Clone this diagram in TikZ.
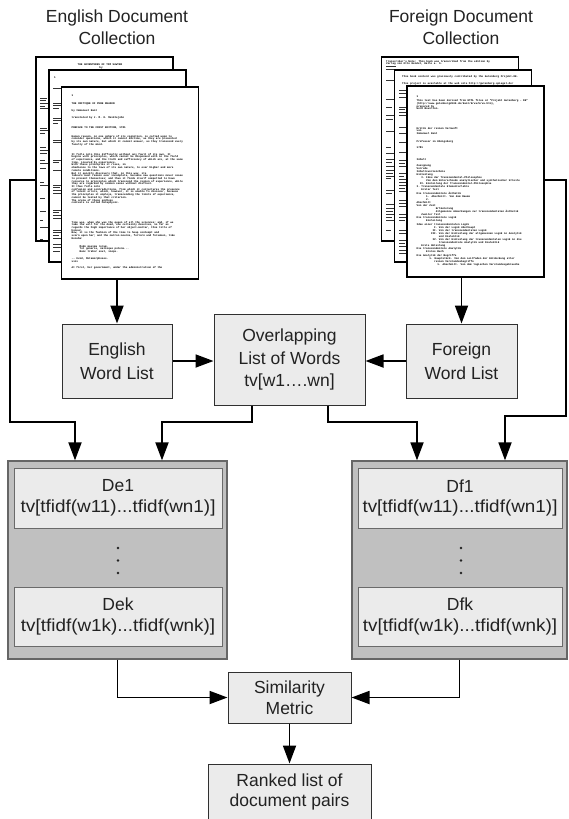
\documentclass[tikz,border=0pt]{standalone}
\usepackage{fontspec}
\setmainfont{Liberation Sans}
\newfontfamily\docfont{Liberation Mono}
\usepackage{graphicx}
\usetikzlibrary{arrows.meta}
\definecolor{boxfill}{HTML}{EBEBEB}
\definecolor{boxline}{HTML}{303030}
\definecolor{grpfill}{HTML}{C0C0C0}
\definecolor{grpline}{HTML}{666666}
\definecolor{inline}{HTML}{6A6A6A}
\definecolor{ink}{HTML}{222222}
\newdimen\docch \docch=1.59pt
\newcommand\ind[1]{\hspace*{#1\docch}}
\newcommand\tvline[1]{\scalebox{1.08}[1]{#1}}
\tikzset{
  docpage/.style={draw=black, line width=1.9pt, fill=white, inner sep=0, minimum width=137pt},
  doctxt/.style={font=\docfont\bfseries\fontsize{2.65}{#1}\selectfont, align=left, inner sep=0, anchor=north west, text=black},
  doctxt/.default=2.7,
  doctitle/.style={font=\fontsize{17.5}{21.5}\selectfont, align=center, inner sep=0, text=ink},
  procbox/.style={draw=boxline, line width=1pt, fill=boxfill, align=center, inner sep=0, text=ink},
  grpbox/.style={draw=grpline, line width=1.3pt, fill=grpfill, inner sep=0},
  docvec/.style={draw=inline, line width=1pt, fill=boxfill, align=center, inner sep=0, font=\fontsize{17.5}{20.5}\selectfont, text=ink, minimum height=60pt},
  conn/.style={line width=1.8pt, draw=black, -{Triangle[length=18pt,width=13pt]}},
  bar/.style={fill=black!80},
}
\begin{document}
\begin{tikzpicture}[x=1pt,y=-1pt]
\useasboundingbox (0,0) rectangle (568,819);

% ---------------- titles
\node[doctitle] (etitle) at (117,27) {English Document\\Collection};
\node[doctitle] (ftitle) at (461,27) {Foreign Document\\Collection};

% ---------------- English stack
\node[docpage, minimum height=184pt] (eback) at (104.5,149) {};
\node[doctxt, anchor=center] (ebt) at (100,65) {THE ADVENTURES OF TOM SAWYER};
\node[doctxt, anchor=center] (eby) at (101,68.3) {by};
\foreach \yy/\ww in {98/7,100.7/6,103.4/8,106/5,108.7/8,128/7,130.7/8,133.4/5,147/6,150/8,153/7,160/5,163/8,168/6,182/4,185/8,198/5,211/6,220/3,227/8,239/3}
  \fill[bar] (40,\yy-0.5) rectangle ++(\ww,1);

\node[docpage, minimum height=192pt] (emid) at (117.5,166) {};
\node[doctxt, anchor=center] (emn) at (55,78) {1};
\foreach \yy/\ww in {88/12,103/9,105.7/12,108.4/6,118/12,120.7/10,123.4/5,140/12,142.7/8,160/12,162.7/6,170/11,185/12,187.7/7,190.4/12,193/9,210/12,212.7/6,215.4/12,218/10,230/8,232.7/12,235.4/6,238/12,244/9,247/12,251/7}
  \fill[bar] (53,\yy-0.5) rectangle ++(\ww,1);

\node[docpage, minimum height=192pt] (efront) at (130,183) {};
\node[doctxt] (ef1) at (71.5,95) {1};
\node[doctxt=7] (ef2) at (71.5,103) {THE CRITIQUE OF PURE REASON\\by Immanuel Kant\\translated by J. M. D. Meiklejohn};
\node[doctxt] (ef3) at (71.5,127) {PREFACE TO THE FIRST EDITION, 1781};
\node[doctxt] (ef4) at (71.5,135) {Human reason, in one sphere of its cognition, is called upon to\\
consider questions, which it cannot decline, as they are presented\\
by its own nature, but which it cannot answer, as they transcend every\\
faculty of the mind.};
\node[doctxt] (ef5) at (71.5,153) {It falls into this difficulty without any fault of its own. It\\
begins with principles, which cannot be dispensed with in the field\\
of experience, and the truth and sufficiency of which are, at the same\\
time, insured by experience.\\
With these principles it rises, in\\
obedience to the laws of its own nature, to ever higher and more\\
remote conditions.\\
But it quickly discovers that, in this way, its\\
labours must remain ever incomplete, because new questions never cease\\
to present themselves; and thus it finds itself compelled to have\\
recourse to principles which transcend the region of experience, while\\
they are regarded by common sense without distrust.\\
It thus falls into\\
confusion and contradictions, from which it conjectures the presence\\
of latent errors, which, however, it is unable to discover, because\\
the principles it employs, transcending the limits of experience,\\
cannot be tested by that criterion.\\
The arena of these endless\\
contests is called Metaphysic.};
\node[doctxt] (ef6) at (71.5,221) {Time was, when she was the queen of all the sciences; and, if we\\
take the will for the deed, she certainly deserves, so far as\\
regards the high importance of her object-matter, this title of\\
honour.\\
Now, it is the fashion of the time to heap contempt and\\
scorn upon her; and the matron mourns, forlorn and forsaken, like\\
Hecuba:};
\node[doctxt] (ef7) at (79.5,245) {Modo maxima rerum,\\
Tot generis, natisque potens...\\
Nunc trahor exul, inops.};
\node[doctxt=3.3] (ef8) at (71.5,257) {-- Ovid, Metamorphoses.\\xiii};
\node[doctxt] (ef9) at (71.5,266) {At first, her government, under the administration of the};

% ---------------- Foreign stack
\node[docpage, minimum height=184pt] (fback) at (450,149) {};
\node[doctxt] (fb1) at (386,60) {Transcriber's Note: This book was transcribed from the edition by\\
Verlag von Otto Hendel, Halle a. S.};
\foreach \yy/\ww in {66.3/10,69/9,80/8,99/9,107/6,115/9,119/7,131/9,147/5,153/9,159/8,162/6,166/9,170/9,173/7,176/9,178.5/5,190/9,193/6,204/8,208/9,211/7,214/9,217/6,220/9,230/5}
  \fill[bar] (386,\yy-0.5) rectangle ++(\ww,1);

\node[docpage, minimum height=192pt] (fmid) at (463,166) {};
\node[doctxt] (fm1) at (402,75.7) {This book content was graciously contributed by the Gutenberg Projekt-DE.};
\node[doctxt] (fm2) at (402,82.3) {This project is available at the web site http://gutenberg.spiegel.de/};
\foreach \yy/\ww in {90/9,93/8,97/9,107/9,109.7/6,112.4/9,115/7,127/9,133/7,142/9,152/8,160/9,163/6,166/9,173/9,176/5,179/9,182/8,185/9,188/6,191/9,200/9,203/7,206/9,214/8,217/9,220/6,230/9,233/8,240/9,243/6,246/9,250/8,253/9}
  \fill[bar] (399,\yy-0.5) rectangle ++(\ww,1);

\node[docpage, minimum height=191pt] (ffront) at (475.5,181.5) {};
\node[doctxt] (ff1) at (416.5,95.7) {1};
\node[doctxt=2.6] (ff2) at (416.5,99.7) {This text has been derived from HTML files at "Projekt Gutenberg - DE"\\
(http://www.gutenberg2000.de/kant/krva/krva.htm),\\
prepared by\\
Gerd Bouillon.};
\node[doctxt] (ff3) at (416.5,127) {Kritik der reinen Vernunft\\von\\Immanuel Kant};
\node[doctxt] (ff4) at (416.5,140.7) {Professor in Königsberg};
\node[doctxt] (ff5) at (416.5,146.3) {1781};
\node[doctxt] (ff6) at (416.5,158.3) {Inhalt};
\node[doctxt=3.1] (ff7) at (416.5,164) {Zueignung\\
Vorrede\\
Inhaltsverzeichnis\\
Einleitung\\
\ind{3}I. Idee der Transzendental-Philosophie\\
\ind{6}Von dem Unterschiede analytischer und synthetischer Urteile\\
\ind{2}II. Einteilung der Transzendental-Philosophie\\
I. Transzendentale Elementarlehre\\
\ind{3}Erster Teil\\
Die transzendentale Ästhetik\\
\ind{6}1. Abschnitt. Von dem Raume\\
\ind{6}2.\\
Abschnitt\\
Von der Zeit\\
\ind{12}Erläuterung\\
\ind{12}Allgemeine Anmerkungen zur transzendentalen Ästhetik\\
\ind{3}Zweiter Teil\\
Die transzendentale Logik\\
\ind{6}Einleitung\\
Idee einer transzendentalen Logik\\
\ind{11}I. Von der Logik überhaupt\\
\ind{10}II. Von der transzendentalen Logik\\
\ind{9}III. Von der Einteilung der allgemeinen Logik in Analytik\\
\ind{14}und Dialektik\\
\ind{10}IV. Von der Einteilung der transzendentalen Logik in die\\
\ind{14}transzendentale Analytik und Dialektik\\
\ind{3}Erste Abteilung\\
Die transzendentale Analytik\\
\ind{6}Erstes Buch\\
Die Analytik der Begriffe\\
\ind{8}1. Hauptstück. Von dem Leitfaden der Entdeckung aller\\
\ind{11}reinen Verstandesbegriffe\\
\ind{13}1. Abschnitt. Von dem logischen Verstandesgebrauche};

% ---------------- word lists
\node[procbox, minimum width=110pt, minimum height=74pt, font=\fontsize{17.5}{23.5}\selectfont] (ewl) at (117,361) {English\\Word List};
\node[procbox, minimum width=111pt, minimum height=74pt, font=\fontsize{17.5}{23.5}\selectfont] (fwl) at (461.5,361) {Foreign\\Word List};
\node[procbox, minimum width=151pt, minimum height=91pt, font=\fontsize{17.5}{22.6}\selectfont] (ovl) at (289.5,359.5) {Overlapping\\List of Words\\tv[w1….wn]};

% ---------------- document vector groups
\node[grpbox, minimum width=219pt, minimum height=198pt] (egrp) at (117.5,560) {};
\node[grpbox, minimum width=215pt, minimum height=198pt] (fgrp) at (459.5,560) {};
\node[docvec, minimum width=208pt] (e1) at (118,498) {De1\\\tvline{tv[tfidf(w11)...tfidf(wn1)]}};
\node[docvec, minimum width=208pt, minimum height=59pt] (ek) at (118,616.5) {Dek\\\tvline{tv[tfidf(w1k)...tfidf(wnk)]}};
\node[docvec, minimum width=204pt] (f1) at (460,498) {Df1\\\tvline{tv[tfidf(w11)...tfidf(wn1)]}};
\node[docvec, minimum width=204pt, minimum height=59pt] (fk) at (460,616.5) {Dfk\\\tvline{tv[tfidf(w1k)...tfidf(wnk)]}};
\foreach \yy in {548,560.5,573} {
  \fill[ink] (118,\yy) circle (1.3pt);
  \fill[ink] (461,\yy) circle (1.3pt);
}

% ---------------- similarity and result
\node[procbox, minimum width=123pt, minimum height=51pt, font=\fontsize{17.5}{21}\selectfont] (sim) at (289.5,697.5) {Similarity\\Metric};
\node[procbox, minimum width=163pt, minimum height=56pt, font=\fontsize{17.5}{20.5}\selectfont] (rank) at (289.5,792) {Ranked list of\\document pairs};

% ---------------- connectors
\draw[conn] (efront.south -| ewl.north) -- (ewl.north);
\draw[conn] (ffront.south -| fwl.north) -- (fwl.north);
\draw[conn] (ewl.east) -- (ewl.east -| ovl.west);
\draw[conn] (fwl.west) -- (fwl.west -| ovl.east);

\coordinate (eL) at (10,180);
\coordinate (eLd) at (75,422);
\draw[conn] (eback.west |- eL) -- (eL) |- (eLd) -- (eLd |- egrp.north);

\coordinate (oL) at (252,422);
\coordinate (oLd) at (162,422);
\draw[conn] (ovl.south -| oL) -- (oL) -- (oLd) -- (oLd |- egrp.north);

\coordinate (oR) at (328,422);
\coordinate (oRd) at (417,422);
\draw[conn] (ovl.south -| oR) -- (oR) -- (oRd) -- (oRd |- fgrp.north);

\coordinate (fR) at (566,180);
\coordinate (fRd) at (505,416);
\draw[conn] (ffront.east |- fR) -- (fR) |- (fRd) -- (fRd |- fgrp.north);

\draw[conn] (egrp.south) |- (sim.west);
\draw[conn] (fgrp.south) |- (sim.east);
\draw[conn] (sim.south) -- (rank.north);
\end{tikzpicture}
\end{document}
